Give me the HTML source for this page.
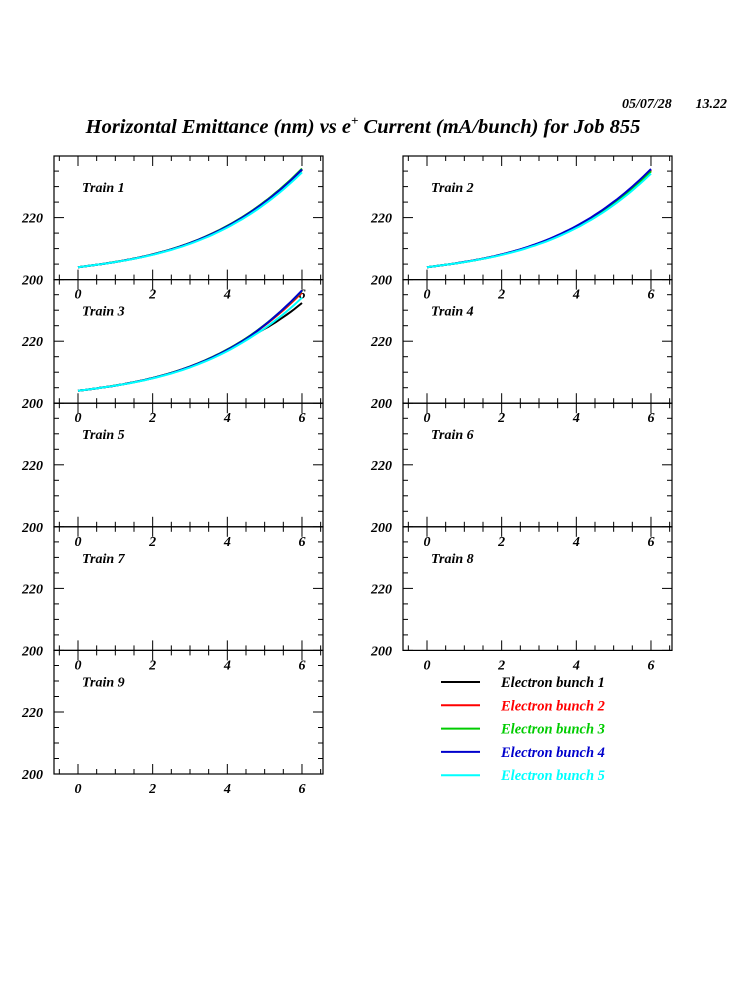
<!DOCTYPE html>
<html><head><meta charset="utf-8"><style>
body{margin:0;background:#fff;width:750px;height:1000px;overflow:hidden}
text{font-family:"Liberation Serif",serif;font-style:italic;font-weight:bold}
</style></head><body>
<svg id="s" width="750" height="1000" xmlns="http://www.w3.org/2000/svg">
<text x="622" y="108" font-size="14">05/07/28</text><text x="727" y="108" font-size="14" text-anchor="end">13.22</text>
<text x="363" y="133" font-size="20.5" text-anchor="middle">Horizontal Emittance (nm) vs e<tspan dy="-8" font-size="13">+</tspan><tspan dy="8"> Current (mA/bunch) for Job 855</tspan></text>
</svg>
<script>
const s=document.getElementById('s');let h='';
const cols=[54,403],W=269,tops=[156,279.6,403.2,526.8,650.4],H=123.6;
const colors=['#000','#f00','#0c0','#00c','#0ff'];
function X(x0,v){return x0+24+v*37.33}
function Y(y0,v){return y0+H-(v-200)*3.1}
function f(x,k,t){let d=[0,0.3,0.4,0.15,-0.8][k];if(t==2)d=[0,-0.2,-0.5,0.3,-1.2][k];let y=204+1.5*x+0.1*x*x+0.087*x*x*x;if(t==3&&x>4.6){y-= [2.2,0,-0.3,-0.6,0.4][k]*(x-4.6)}return y+d*x*x/36;}
let n=1;
for(let r=0;r<5;r++)for(let c=0;c<2;c++){
 if(r==4&&c==1)continue;
 const x0=cols[c],y0=tops[r];
 h+=`<rect x="${x0}" y="${y0}" width="${W}" height="${H}" fill="none" stroke="#000" stroke-width="1.2"/>`;
 for(let v=-0.5;v<=6.5;v+=0.5){const x=X(x0,v);if(x<x0||x>x0+W)continue;const L=(v%2==0)?10:5;
  h+=`<line x1="${x}" y1="${y0+H}" x2="${x}" y2="${y0+H-L}" stroke="#000"/><line x1="${x}" y1="${y0}" x2="${x}" y2="${y0+L}" stroke="#000"/>`;}
 for(let v=200;v<=240;v+=5){const y=Y(y0,v);if(y<y0)continue;const L=(v%20==0)?10:5;
  h+=`<line x1="${x0}" y1="${y}" x2="${x0+L}" y2="${y}" stroke="#000"/><line x1="${x0+W}" y1="${y}" x2="${x0+W-L}" y2="${y}" stroke="#000"/>`;}
 h+=`<text x="${x0-11}" y="${Y(y0,200)+5}" font-size="14" text-anchor="end">200</text><text x="${x0-11}" y="${Y(y0,220)+5}" font-size="14" text-anchor="end">220</text>`;
 for(let v=0;v<=6;v+=2)h+=`<text x="${X(x0,v)}" y="${y0+H+19}" font-size="14" text-anchor="middle">${v}</text>`;
 h+=`<text x="${x0+28}" y="${y0+36}" font-size="14">Train ${n}</text>`;
 if(n<=3){for(let k=0;k<5;k++){let p='';for(let x=0;x<=6.001;x+=0.1)p+=X(x0,x).toFixed(1)+','+Y(y0,f(x,k,n)).toFixed(1)+' ';
  h+=`<polyline points="${p}" fill="none" stroke="${colors[k]}" stroke-width="2"/>`;}}
 n++;
}
const names=['Electron bunch 1','Electron bunch 2','Electron bunch 3','Electron bunch 4','Electron bunch 5'];
for(let k=0;k<5;k++){const y=682+k*23.3;h+=`<line x1="441" y1="${y}" x2="480" y2="${y}" stroke="${colors[k]}" stroke-width="2"/><text x="501" y="${y+5}" font-size="14.5" fill="${colors[k]}">${names[k]}</text>`;}
s.insertAdjacentHTML('beforeend',h);
</script>
</body></html>
